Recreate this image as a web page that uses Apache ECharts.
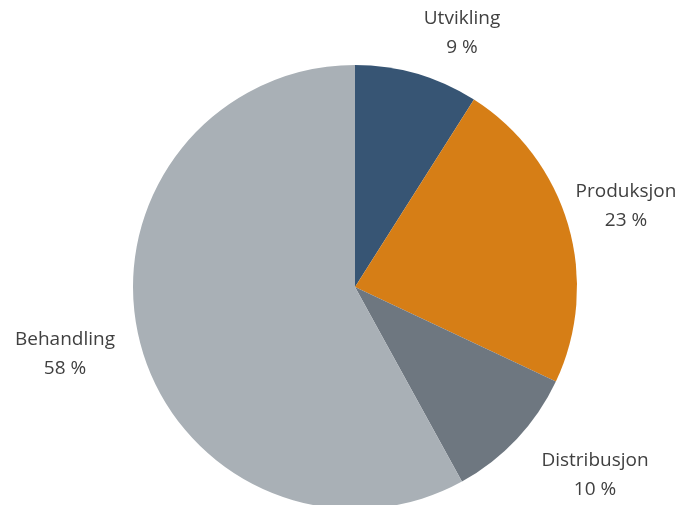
<!DOCTYPE html>
<html>
<head>
<meta charset="utf-8">
<script src="https://cdn.jsdelivr.net/npm/echarts@6/dist/echarts.min.js"></script>
<style>
  html, body { margin: 0; padding: 0; background: #fff; }
  #chart { width: 698px; height: 505px; }
</style>
</head>
<body>
<div id="chart"></div>
<script>
const categories = ['Utvikling', 'Produksjon', 'Distribusjon', 'Behandling']
const shares = [9, 23, 10, 58]
const colors = ['#375574', '#d67e16', '#6e7780', '#a9b0b6']

// label anchor points (px), Excel places them by "best fit"
const labelPos = [[462, 33], [626, 206], [595, 475], [65, 354]]

const chart = echarts.init(document.getElementById('chart'))
chart.setOption({
  animation: false,
  series: [
    {
      type: 'pie',
      center: [355, 287],
      radius: 222,
      startAngle: 90,
      clockwise: true,
      data: categories.map((name, i) => ({
        name,
        value: shares[i],
        itemStyle: { color: colors[i] }
      })),
      itemStyle: { borderWidth: 0 },
      label: {
        show: true,
        position: 'outside',
        formatter: p => p.name + '\n' + p.value + ' %',
        fontFamily: 'Open Sans',
        fontSize: 19,
        lineHeight: 29,
        color: '#404040',
        align: 'center',
        overflow: 'none',
        width: 200
      },
      labelLine: { show: false },
      labelLayout: params => ({
        x: labelPos[params.dataIndex][0],
        y: labelPos[params.dataIndex][1],
        align: 'center',
        verticalAlign: 'middle'
      }),
      emphasis: { disabled: true }
    }
  ]
})
</script>
</body>
</html>
